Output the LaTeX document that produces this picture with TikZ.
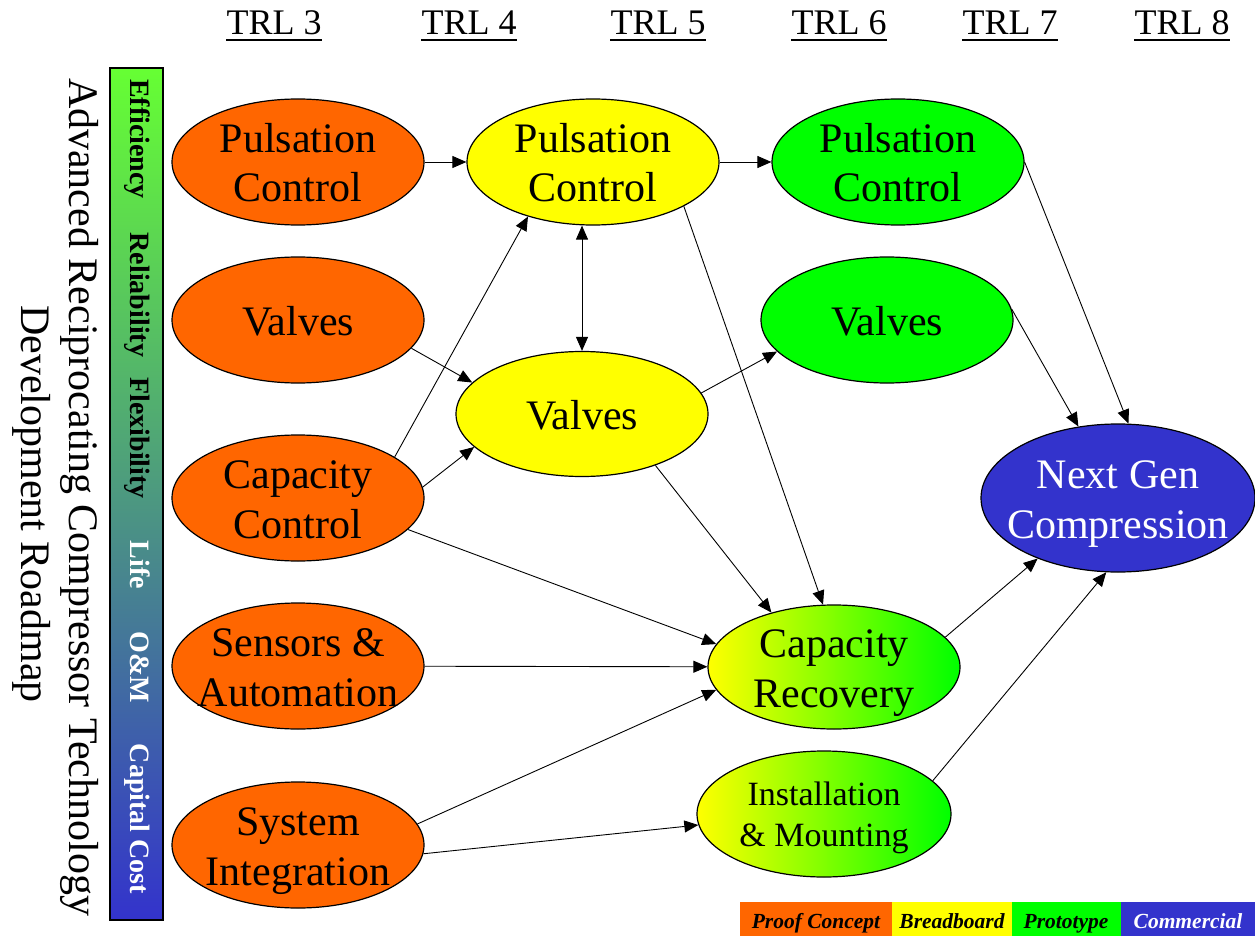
\documentclass[tikz,border=0pt]{standalone}
\usepackage{fontspec}
\setmainfont{Liberation Serif}
\usetikzlibrary{shapes.geometric,arrows.meta}
\definecolor{orangeC}{RGB}{255,102,0}
\definecolor{yellowC}{RGB}{255,255,0}
\definecolor{greenC}{RGB}{0,255,0}
\definecolor{blueC}{RGB}{51,51,204}
\definecolor{barTop}{RGB}{102,255,51}
\definecolor{barBot}{RGB}{51,51,204}
\newcommand\bstrut{\rule[-10pt]{0pt}{50pt}}
\newcommand\sstrut{\rule[-9pt]{0pt}{41pt}}
\tikzset{
  el/.style={ellipse, draw=black, line width=1.2pt, inner sep=0pt,
    minimum width=252pt, minimum height=126pt},
  txt/.style={inner sep=0pt, align=center, font=\fontsize{42}{50}\selectfont},
  stxt/.style={inner sep=0pt, align=center, font=\fontsize{34}{41}\selectfont},
  proof/.style={el, fill=orangeC},
  bread/.style={el, fill=yellowC},
  proto/.style={el, fill=greenC},
  grad/.style={el, left color=yellowC, right color=greenC},
  arr/.style={-{Triangle[length=14pt,width=12pt]}, line width=0.9pt},
  darr/.style={{Triangle[length=14pt,width=12pt]}-{Triangle[length=14pt,width=12pt]}, line width=0.9pt},
  trl/.style={inner sep=0pt, anchor=base, font=\fontsize{36}{40}\selectfont},
  bartxt/.style={inner sep=0pt, anchor=base, rotate=-90, font=\fontsize{28}{32}\selectfont\bfseries},
  title/.style={inner sep=0pt, anchor=base, rotate=-90, font=\fontsize{42}{50}\selectfont},
  legtxt/.style={inner sep=0pt, anchor=base, font=\fontsize{21.5}{24}\selectfont\bfseries\itshape},
}
\begin{document}
\begin{tikzpicture}[x=1pt,y=-1pt]
\useasboundingbox (0,0) rectangle (1255,936);

% TRL headings
\foreach \n/\x in {3/274,4/469,5/658,6/839,7/1010,8/1182}{
  \node[trl] (t\n) at (\x,35) {TRL \n};
  \draw[line width=2.2pt] ([yshift=-5pt]t\n.base west) -- ([yshift=-5pt]t\n.base east);
}

% side bar
\shade[top color=barTop, bottom color=barBot] (110,68) rectangle (163,920);
\draw[line width=1.5pt] (110,68) rectangle (163,920);
\node[bartxt] (b1) at (130,139) {Efficiency};
\node[bartxt] (b2) at (130,295) {Reliability};
\node[bartxt] (b3) at (130,438) {Flexibility};
\node[bartxt, text=white] (b4) at (130,565) {Life};
\node[bartxt, text=white] (b5) at (130,667) {O\&M};
\node[bartxt, text=white] (b6) at (130,819) {Capital Cost};

% title
\node[title] (ti1) at (69,497) {Advanced Reciprocating Compressor Technology};
\node[title] (ti2) at (21,504) {Development Roadmap};

% nodes
\node[proof, label={[txt]center:\bstrut Pulsation\\\bstrut Control}] (PC3) at (298,162) {};
\node[proof, label={[txt]center:\bstrut Valves}] (V3) at (298,320) {};
\node[proof, label={[txt]center:\bstrut Capacity\\\bstrut Control}] (CC3) at (298,498) {};
\node[proof, label={[txt]center:\bstrut Sensors \&\\\bstrut Automation}] (SA3) at (298,666) {};
\node[proof, label={[txt]center:\bstrut System\\\bstrut Integration}] (SI3) at (298,845) {};

\node[bread, label={[txt]center:\bstrut Pulsation\\\bstrut Control}] (PC4) at (593,162) {};
\node[bread, minimum height=125pt, label={[txt]center:\bstrut Valves}] (V4) at (582,414) {};

\node[proto, label={[txt]center:\bstrut Pulsation\\\bstrut Control}] (PC6) at (898,162) {};
\node[proto, label={[txt]center:\bstrut Valves}] (V6) at (887,320) {};

\node[grad, minimum height=124pt, label={[txt]center:\bstrut Capacity\\\bstrut Recovery}] (CR) at (834,667) {};
\node[grad, minimum width=254pt, label={[stxt]center:\sstrut Installation\\\sstrut \& Mounting}] (IM) at (824,814) {};

\node[el, fill=blueC, minimum width=274pt, minimum height=148pt,
  label={[txt, text=white]center:\bstrut Next Gen\\\bstrut Compression}] (NG) at (1118,498) {};

% connectors
\draw[arr] (PC3) -- (PC4);
\draw[arr] (PC4) -- (PC6);
\draw[darr] (V4.north) -- (V4.north |- PC4.south);
\draw[arr] (V3.-14.5) -- (V4.164.6);
\draw[arr] (CC3.23.9) -- (PC4.220);
\draw[arr] (CC3.5.1) -- (V4.197);
\draw[arr] (CC3.-16.8) -- (CR.169.4);
\draw[arr] (SA3) -- (CR);
\draw[arr] (SI3.10.9) -- (CR.191.1);
\draw[arr] (SI3.-4.5) -- (IM.185.1);
\draw[arr] (V4.10.7) -- (V6.196.8);
\draw[arr] (V4.-35.6) -- (CR.139.8);
\draw[arr] (PC4.-26.8) -- (CR.100.6);
\draw[arr] (PC6.0) -- (NG.82.3);
\draw[arr] (V6.5.4) -- (NG.119);
\draw[arr] (CR.15.4) -- (NG.217.2);
\draw[arr] (IM.17.1) -- (NG.261.6);

% legend
\fill[orangeC] (740,902) rectangle (892,936);
\fill[yellowC] (892,902) rectangle (1012,936);
\fill[greenC] (1012,902) rectangle (1121,936);
\fill[blueC] (1121,902) rectangle (1255,936);
\node[legtxt] (l1) at (816,928) {Proof Concept};
\node[legtxt] (l2) at (952,928) {Breadboard};
\node[legtxt] (l3) at (1066,928) {Prototype};
\node[legtxt, text=white] (l4) at (1188,928) {Commercial};
\end{tikzpicture}
\end{document}
